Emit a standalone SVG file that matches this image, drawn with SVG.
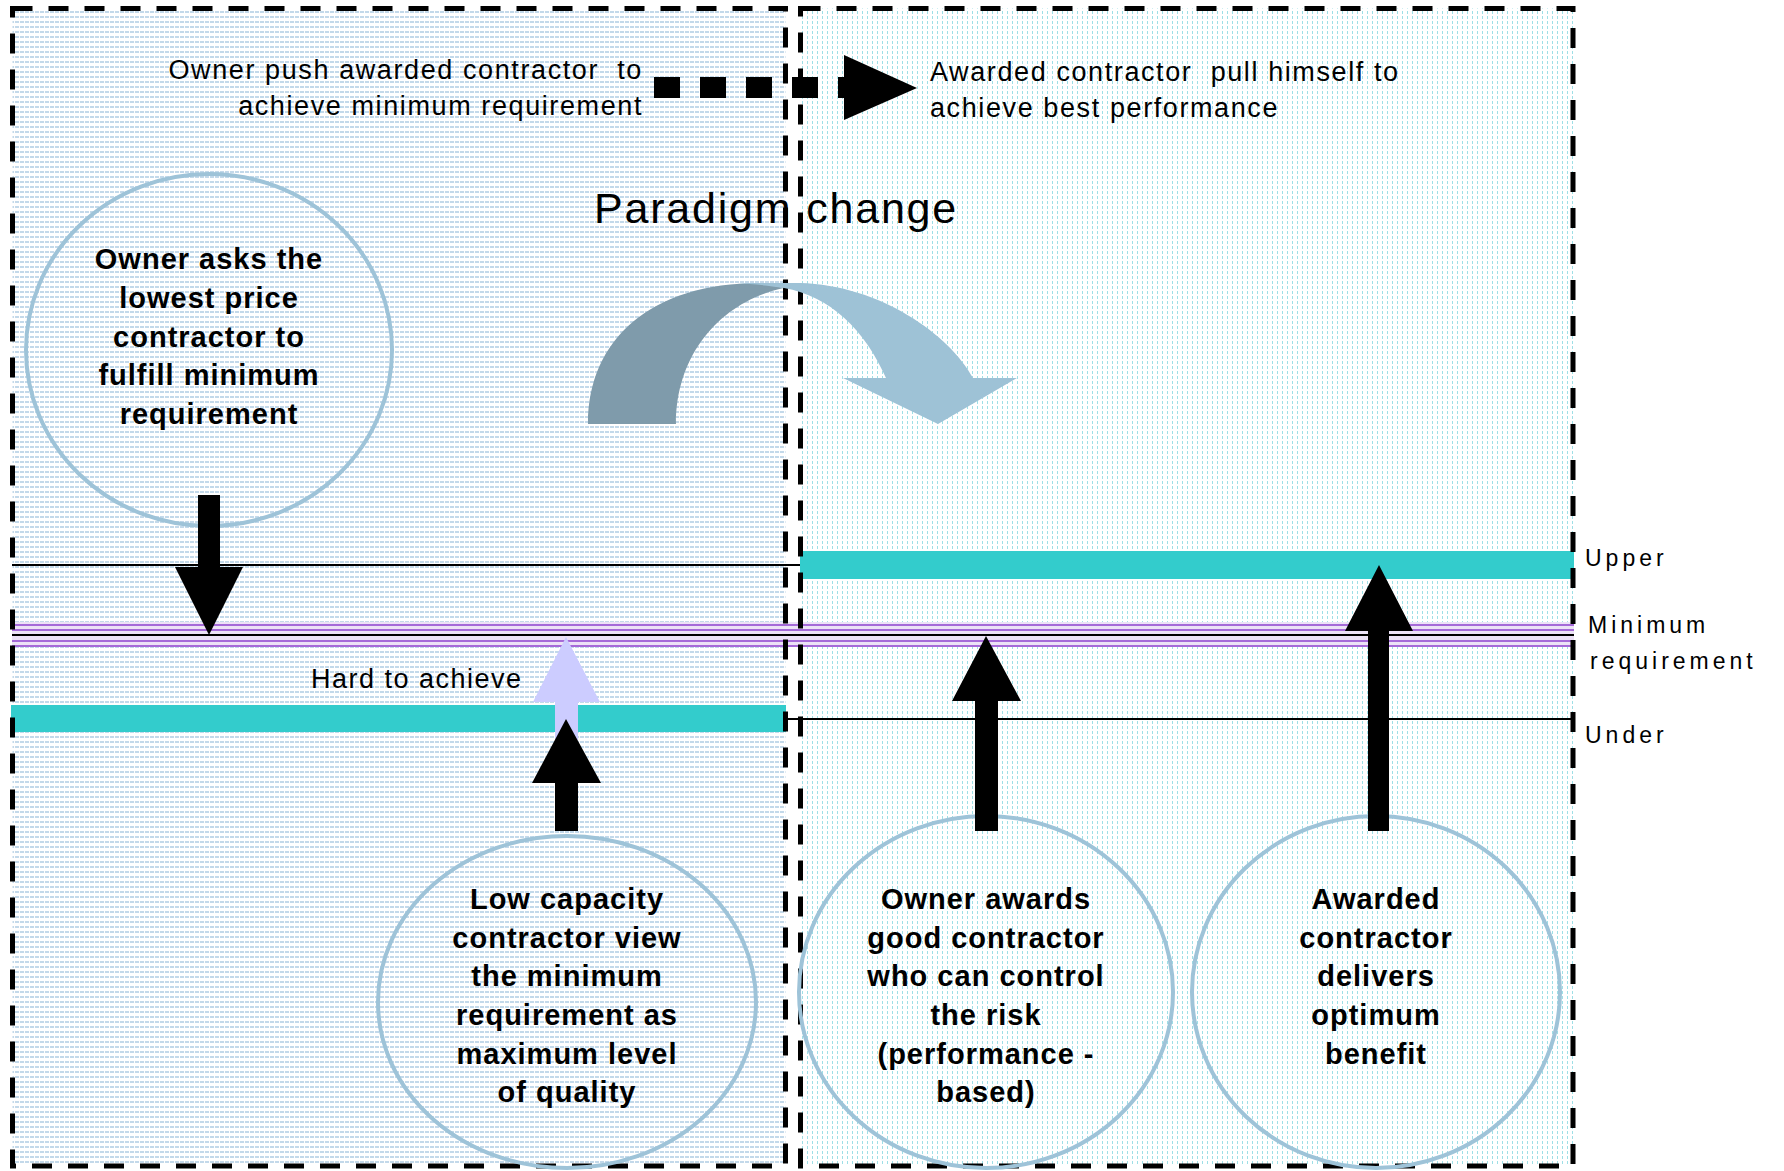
<svg xmlns="http://www.w3.org/2000/svg" width="1784" height="1171" viewBox="0 0 1784 1171">
  <defs>
    <!-- fine blue hatch used inside the left panel -->
    <pattern id="hatchLeft" width="5" height="5" patternUnits="userSpaceOnUse">
      <rect x="0" y="1" width="4" height="2" fill="#c3d9ea"/>
    </pattern>
    <!-- fine cyan vertical ticks used inside the right panel -->
    <pattern id="ticksRight" width="5" height="5" patternUnits="userSpaceOnUse">
      <rect x="2" y="1" width="1" height="3" fill="#9edfe6"/>
    </pattern>
    <style>
      .frame { fill: none; stroke: #000; stroke-width: 5; stroke-dasharray: 20 16; }
      .bubble { fill: none; stroke: #9ec3d8; stroke-width: 4; }
      .bubble-text { font-family: "Liberation Sans", Arial, sans-serif; font-weight: bold; font-size: 29px; letter-spacing: 1px; fill: #000; text-anchor: middle; }
      .note { font-family: "Liberation Sans", Arial, sans-serif; font-size: 27px; letter-spacing: 1.6px; fill: #000; }
      .level { font-family: "Liberation Sans", Arial, sans-serif; font-size: 23px; letter-spacing: 4px; fill: #000; }
      .title { font-family: "Liberation Sans", Arial, sans-serif; font-size: 43px; letter-spacing: 1.8px; fill: #000; }
      .bar { fill: #33cccc; }
      .thin { stroke: #000; stroke-width: 2; }
      .solid-arrow { fill: #000; }
    </style>
  </defs>

  <rect width="1784" height="1171" fill="#fff"/>

  <!-- panel backgrounds -->
  <g id="panels">
    <rect x="12.5" y="8.5" width="773" height="1157.5" fill="url(#hatchLeft)"/>
    <rect x="800.5" y="8.5" width="772.5" height="1157.5" fill="url(#ticksRight)"/>
  </g>

  <!-- performance levels -->
  <g id="levels">
    <line class="thin" x1="12" y1="565" x2="800" y2="565"/>
    <rect class="bar" x="800" y="551" width="774" height="28"/>

    <rect x="12" y="622" width="1562" height="25" fill="#ece2f6"/>
    <line x1="12" y1="625" x2="1574" y2="625" stroke="#a56ad8" stroke-width="2"/>
    <line x1="12" y1="630" x2="1574" y2="630" stroke="#a56ad8" stroke-width="2"/>
    <line x1="12" y1="641" x2="1574" y2="641" stroke="#a56ad8" stroke-width="2"/>
    <line x1="12" y1="646" x2="1574" y2="646" stroke="#a56ad8" stroke-width="2"/>
    <line class="thin" x1="12" y1="635" x2="1574" y2="635"/>

    <line class="thin" x1="786" y1="719" x2="1574" y2="719"/>
    <rect class="bar" x="11" y="705" width="775" height="27"/>
  </g>

  <!-- dashed panel frames -->
  <g id="frames">
    <rect class="frame" x="12.5" y="8.5" width="773" height="1157.5"/>
    <rect class="frame" x="800.5" y="8.5" width="772.5" height="1157.5"/>
  </g>

  <!-- curved paradigm-change arrow -->
  <g id="paradigm-arrow">
    <path d="M588,424 C588,340 650,283 760,283 L784,288 C725,300 676,350 676,424 Z" fill="#7f9bab"/>
    <path d="M737,283 L800,283 C880,285 950,335 973,378 L1017,378 L938,424 L843,378 L886,378 C865,330 830,296 784,288 C765,285 750,284 737,283 Z" fill="#9ec2d6"/>
  </g>

  <!-- labels -->
  <g id="labels">
    <text class="note" x="643" y="79" text-anchor="end" xml:space="preserve">Owner push awarded contractor  to</text>
    <text class="note" x="643" y="115" text-anchor="end">achieve minimum requirement</text>
    <text class="note" x="930" y="81" xml:space="preserve">Awarded contractor  pull himself to</text>
    <text class="note" x="930" y="117">achieve best performance</text>
    <text class="title" x="594" y="223">Paradigm change</text>
    <text class="note" x="311" y="688" style="font-size:27px;letter-spacing:1.5px">Hard to achieve</text>
    <text class="level" x="1585" y="566">Upper</text>
    <text class="level" x="1588" y="633">Minimum</text>
    <text class="level" x="1590" y="669">requirement</text>
    <text class="level" x="1585" y="743">Under</text>
  </g>

  <!-- nodes -->
  <g id="node-owner-asks">
    <ellipse class="bubble" cx="209" cy="350" rx="183" ry="176"/>
    <text class="bubble-text" x="209" y="269">Owner asks the</text>
    <text class="bubble-text" x="209" y="308">lowest price</text>
    <text class="bubble-text" x="209" y="347">contractor to</text>
    <text class="bubble-text" x="209" y="385">fulfill minimum</text>
    <text class="bubble-text" x="209" y="424">requirement</text>
  </g>

  <g id="node-low-capacity">
    <ellipse class="bubble" cx="567" cy="1002" rx="189" ry="166"/>
    <text class="bubble-text" x="567" y="909">Low capacity</text>
    <text class="bubble-text" x="567" y="948">contractor view</text>
    <text class="bubble-text" x="567" y="986">the minimum</text>
    <text class="bubble-text" x="567" y="1025">requirement as</text>
    <text class="bubble-text" x="567" y="1064">maximum level</text>
    <text class="bubble-text" x="567" y="1102">of quality</text>
  </g>

  <g id="node-owner-awards">
    <ellipse class="bubble" cx="986" cy="992" rx="187" ry="176"/>
    <text class="bubble-text" x="986" y="909">Owner awards</text>
    <text class="bubble-text" x="986" y="948">good contractor</text>
    <text class="bubble-text" x="986" y="986">who can control</text>
    <text class="bubble-text" x="986" y="1025">the risk</text>
    <text class="bubble-text" x="986" y="1064">(performance -</text>
    <text class="bubble-text" x="986" y="1102">based)</text>
  </g>

  <g id="node-delivers">
    <ellipse class="bubble" cx="1376" cy="992" rx="184" ry="176"/>
    <text class="bubble-text" x="1376" y="909">Awarded</text>
    <text class="bubble-text" x="1376" y="948">contractor</text>
    <text class="bubble-text" x="1376" y="986">delivers</text>
    <text class="bubble-text" x="1376" y="1025">optimum</text>
    <text class="bubble-text" x="1376" y="1064">benefit</text>
  </g>

  <!-- connectors -->
  <g id="connectors">
    <!-- push / pull dotted arrow -->
    <line x1="654" y1="87.5" x2="850" y2="87.5" stroke="#000" stroke-width="21" stroke-dasharray="26 20"/>
    <polygon points="844,55 917,88 844,120" fill="#000"/>

    <!-- owner asks: down to minimum requirement -->
    <polygon class="solid-arrow" points="198,495 220,495 220,567 243,567 209,635 175,567 198,567"/>

    <!-- hard to achieve: light arrow from under level -->
    <polygon points="555,740 578,740 578,702 600,702 566,637 533,702 555,702" fill="#ccccff"/>

    <!-- low capacity: up to under level -->
    <polygon class="solid-arrow" points="555,831 578,831 578,783 601,783 566,719 532,783 555,783"/>

    <!-- owner awards: up to minimum requirement -->
    <polygon class="solid-arrow" points="975,831 998,831 998,701 1021,701 986,636 952,701 975,701"/>

    <!-- delivers: up to upper level -->
    <polygon class="solid-arrow" points="1368,831 1389,831 1389,631 1413,631 1379,565 1345,631 1368,631"/>
  </g>
</svg>
